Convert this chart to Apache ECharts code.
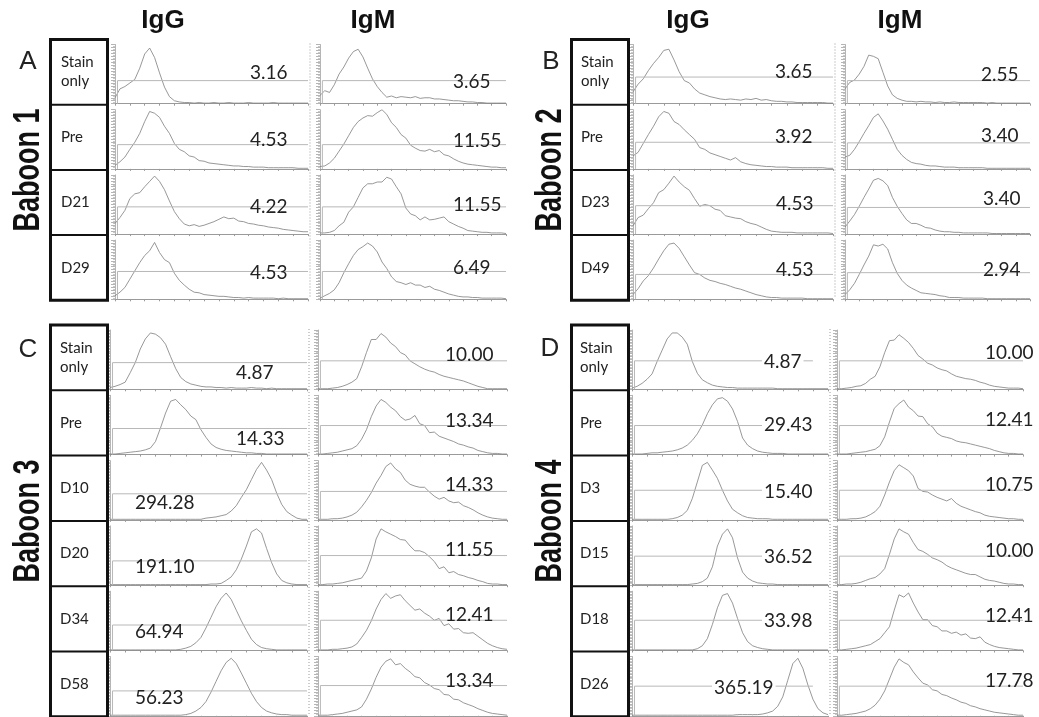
<!DOCTYPE html>
<html>
<head>
<meta charset="utf-8">
<title>Baboon IgG / IgM histograms</title>
<script src="https://cdn.jsdelivr.net/npm/echarts@6/dist/echarts.min.js"></script>
<style>
  html, body { margin: 0; padding: 0; background: #fff; }
  #chart { width: 1039px; height: 717px; }
</style>
</head>
<body>
<div id="chart"></div>
<script>
// row names
const rowsA = ['Stain\nonly', 'Pre', 'D21', 'D29'];
const rowsB = ['Stain\nonly', 'Pre', 'D23', 'D49'];
const rowsC = ['Stain\nonly', 'Pre', 'D10', 'D20', 'D34', 'D58'];
const rowsD = ['Stain\nonly', 'Pre', 'D3', 'D15', 'D18', 'D26'];

// MFI values printed in each histogram
const mfiA_IgG = [3.16, 4.53, 4.22, 4.53];
const mfiA_IgM = [3.65, 11.55, 11.55, 6.49];
const mfiB_IgG = [3.65, 3.92, 4.53, 4.53];
const mfiB_IgM = [2.55, 3.40, 3.40, 2.94];
const mfiC_IgG = [4.87, 14.33, 294.28, 191.10, 64.94, 56.23];
const mfiC_IgM = [10.00, 13.34, 14.33, 11.55, 12.41, 13.34];
const mfiD_IgG = [4.87, 29.43, 15.40, 36.52, 33.98, 365.19];
const mfiD_IgM = [10.00, 12.41, 10.75, 10.00, 12.41, 17.78];

// gate marker height (% of plot height)
const gateA_IgG = [39, 41, 46, 47];
const gateA_IgM = [39, 41, 46, 47];
const gateB_IgG = [45, 45, 48, 42];
const gateB_IgM = [39, 44, 45, 45];
const gateC_IgG = [45, 44, 44, 41, 43, 42];
const gateC_IgM = [48, 49, 48, 50, 51, 51];
const gateD_IgG = [48, 49, 50, 49, 51, 50];
const gateD_IgM = [48, 49, 50, 49, 51, 50];

// histogram counts, 40 channels each, one list per row
const histA_IgG = [
  [10,25,29,35,41,60,84,94,78,52,28,12,5,3,2,2,1,2,1,1,2,1,1,2,1,1,1,2,1,1,1,1,2,1,1,1,1,1,1,1],
  [6,12,20,33,45,60,80,97,94,87,72,60,43,33,29,22,20,14,13,10,9,8,7,6,5,5,4,4,3,3,3,2,2,2,2,2,2,1,1,1],
  [18,28,40,60,68,70,80,89,98,89,75,56,38,26,17,14,16,13,15,18,21,25,29,26,27,22,21,18,17,15,14,12,11,10,8,7,6,5,4,4],
  [6,12,20,34,48,62,74,82,96,79,67,62,44,32,24,17,12,11,8,7,6,5,5,4,3,3,2,3,2,2,2,2,2,1,2,1,1,1,1,1]
];
const histA_IgM = [
  [14,22,19,32,50,62,77,88,92,79,60,42,29,19,11,13,10,12,11,10,12,9,10,10,8,8,7,6,5,5,4,3,3,2,2,1,1,1,1,1],
  [4,5,10,18,30,42,56,70,80,86,90,89,95,100,92,78,70,58,52,40,35,31,30,33,29,31,24,22,17,13,10,8,7,6,5,4,3,3,2,2],
  [2,2,3,6,14,20,37,46,62,78,85,85,88,88,96,93,80,68,44,34,31,24,29,24,25,27,29,21,17,13,10,6,5,4,3,3,2,2,2,1],
  [2,6,10,16,28,45,60,74,84,89,95,90,80,63,52,38,30,28,25,28,24,24,20,22,17,15,12,9,7,5,4,4,3,3,2,2,2,2,2,1]
];
const histB_IgG = [
  [20,33,42,56,68,78,90,92,74,54,39,35,25,18,15,12,10,8,7,8,7,6,8,7,9,6,7,5,4,4,3,3,2,2,2,2,2,2,1,1],
  [22,28,43,58,72,88,97,94,80,75,66,58,50,36,33,27,24,21,18,15,19,12,9,7,6,5,4,4,3,3,3,2,2,2,2,2,2,2,1,1],
  [14,28,32,43,53,70,75,86,98,88,80,74,60,47,50,48,42,40,31,29,27,26,21,18,16,12,8,5,4,3,3,3,2,2,2,2,2,2,2,1],
  [8,18,31,40,53,68,82,93,95,86,72,58,45,42,36,32,30,27,25,22,19,17,14,11,8,6,4,3,3,2,2,2,2,2,1,1,1,1,1,1]
];
const histB_IgM = [
  [25,36,40,50,63,82,80,76,53,30,15,9,6,4,4,3,4,3,3,2,3,2,2,3,2,2,2,2,2,2,1,2,1,1,1,1,1,1,1,1],
  [20,23,33,46,60,73,87,93,81,67,50,33,23,16,11,9,8,6,5,5,4,3,3,3,2,2,2,2,2,2,1,1,1,1,1,1,1,1,1,1],
  [12,22,33,47,62,76,91,94,90,82,62,47,35,24,18,18,15,11,10,7,5,4,4,3,3,2,2,2,2,2,2,1,1,1,1,1,1,1,1,1],
  [8,16,27,42,58,73,92,90,93,85,62,44,32,24,19,15,11,10,9,8,6,5,3,3,3,2,2,2,2,2,1,1,1,1,1,1,1,1,1,1]
];
const histC_IgG = [
  [3,5,8,12,28,45,68,85,95,93,87,76,55,35,20,13,9,7,5,4,4,3,3,2,3,2,2,2,3,2,2,1,2,1,1,1,1,1,1,1],
  [1,1,2,3,4,5,6,8,11,22,45,70,90,93,84,76,65,59,42,29,18,12,9,7,6,5,4,3,3,2,2,1,1,1,1,1,1,1,1,1],
  [1,1,1,1,1,1,1,1,1,1,1,1,1,1,1,1,1,1,1,3,4,5,7,9,15,24,38,51,68,85,97,84,68,45,26,14,8,3,1,1],
  [1,1,1,1,1,1,1,1,1,1,1,1,1,1,1,1,1,1,1,1,2,2,3,8,14,26,44,66,90,95,88,62,38,19,8,4,2,1,1,1],
  [1,1,1,1,1,1,1,1,1,1,1,1,1,1,2,4,7,13,22,38,56,74,88,97,86,68,50,34,19,10,5,3,2,1,1,1,1,1,1,1],
  [1,1,1,1,1,1,1,1,1,1,1,1,1,1,1,2,4,8,14,24,40,58,76,90,97,88,72,55,38,24,14,8,5,3,2,2,1,1,1,1]
];
const histC_IgM = [
  [1,1,1,2,3,5,8,12,18,38,62,84,84,94,88,78,72,62,58,48,43,38,34,31,29,25,22,20,18,16,14,11,8,5,3,1,1,1,1,1],
  [1,1,2,3,4,6,8,10,15,26,42,64,82,93,88,80,74,64,58,60,66,52,49,37,38,31,28,25,22,18,16,13,11,7,5,3,2,2,1,1],
  [1,1,1,2,2,3,5,8,13,22,33,46,62,75,90,96,86,80,67,60,57,55,55,47,40,35,38,32,29,30,24,21,17,12,8,5,3,2,1,1],
  [1,1,2,2,3,4,6,8,10,12,24,46,78,95,90,86,82,77,76,66,58,58,55,48,40,28,31,21,23,18,16,13,11,8,6,3,2,2,1,1],
  [1,1,1,2,2,3,4,6,11,22,34,50,70,86,96,88,92,94,84,76,68,70,63,58,51,54,42,45,36,37,30,29,30,24,18,12,8,5,3,2],
  [1,1,1,2,3,4,6,8,10,15,28,45,65,82,92,96,86,88,80,74,66,64,56,52,46,44,36,35,28,27,22,19,16,12,9,6,4,3,2,1]
];
const histD_IgG = [
  [2,5,10,17,26,47,66,85,95,95,88,76,47,27,16,11,7,5,4,3,3,2,2,2,2,2,2,2,2,1,1,1,1,1,1,1,1,1,1,1],
  [1,1,1,2,3,3,4,5,6,8,11,16,24,35,50,69,84,94,96,90,77,56,28,16,10,6,4,3,2,2,2,1,1,1,1,1,1,1,1,1],
  [1,1,1,1,1,1,1,1,2,4,8,16,36,64,92,97,84,70,50,32,18,12,7,4,3,2,2,2,1,1,1,1,1,1,1,1,1,1,1,1],
  [1,1,1,1,1,1,1,1,1,1,1,1,2,3,6,12,31,66,86,95,80,46,22,12,7,4,3,2,2,1,1,1,1,1,1,1,1,1,1,1],
  [1,1,1,1,1,1,1,1,1,1,1,1,1,3,8,20,44,72,93,96,80,54,30,15,8,5,3,2,1,1,1,1,1,1,1,1,1,1,1,1],
  [1,1,1,1,1,1,1,1,1,1,1,1,1,1,1,1,1,1,1,1,1,2,2,2,2,2,3,5,8,16,32,60,88,97,80,52,28,12,5,2]
];
const histD_IgM = [
  [1,1,2,3,5,6,10,17,22,38,62,82,83,92,86,79,69,57,51,44,41,36,33,31,26,22,20,18,17,15,12,10,7,5,4,3,2,2,2,1],
  [1,1,1,2,3,4,5,7,9,15,30,55,78,86,92,80,74,65,64,52,47,36,31,29,27,23,21,20,18,16,14,12,10,7,5,3,2,2,1,1],
  [1,1,1,2,2,3,5,9,14,23,42,64,83,93,88,83,74,53,48,47,42,38,35,32,36,28,23,20,17,14,12,8,6,5,4,3,2,2,1,1],
  [1,1,2,2,3,5,8,11,13,19,28,52,78,95,90,86,72,60,57,52,46,43,39,33,29,26,23,20,18,18,14,10,8,7,5,3,2,2,1,1],
  [1,1,2,3,4,6,8,10,15,20,30,40,68,94,90,97,80,65,52,52,42,40,33,33,29,31,26,28,21,20,23,14,10,7,5,4,3,2,1,1],
  [1,1,2,3,4,6,8,12,18,28,42,62,82,96,90,86,74,64,55,52,44,42,36,34,30,27,23,21,17,15,12,10,8,6,5,4,3,2,1,1]
];

// page layout of each panel (pixels)
const panels = [
  { letter: 'A', name: 'Baboon 1', rows: rowsA,
    igg: histA_IgG, igm: histA_IgM, mfiG: mfiA_IgG, mfiM: mfiA_IgM, gateG: gateA_IgG, gateM: gateA_IgM,
    box: 50.5, top: 39.5, rowH: 65.2, gx: 115, gw: 193, mx: 320, mw: 186,
    letterPos: [28, 62], namePos: [29, 170], labelX: 61,
    numG: [[250, 73], [250, 140], [250, 207], [250, 273]],
    numM: [[453, 82], [453, 141], [453, 205], [453, 268]],
    titles: [163, 373], gateEndG: 39, maskG: false },
  { letter: 'B', name: 'Baboon 2', rows: rowsB,
    igg: histB_IgG, igm: histB_IgM, mfiG: mfiB_IgG, mfiM: mfiB_IgM, gateG: gateB_IgG, gateM: gateB_IgM,
    box: 571.5, top: 39.5, rowH: 65.2, gx: 633, gw: 200, mx: 845, mw: 185,
    letterPos: [551, 62], namePos: [551, 170], labelX: 581,
    numG: [[775, 72], [775, 137], [776, 204], [776, 270]],
    numM: [[981, 75], [981, 136], [983, 199], [983, 270]],
    titles: [688, 900], gateEndG: 39, maskG: false },
  { letter: 'C', name: 'Baboon 3', rows: rowsC,
    igg: histC_IgG, igm: histC_IgM, mfiG: mfiC_IgG, mfiM: mfiC_IgM, gateG: gateC_IgG, gateM: gateC_IgM,
    box: 50.5, top: 325, rowH: 65.3, gx: 110, gw: 197, mx: 318, mw: 189,
    letterPos: [28, 350], namePos: [29, 521], labelX: 60,
    numG: [[236, 373], [236, 439], [135, 503], [135, 567], [135, 632], [135, 698]],
    numM: [[445, 355], [445, 421], [445, 485], [445, 550], [445, 615], [445, 681]],
    titles: null, gateEndG: 39, maskG: false },
  { letter: 'D', name: 'Baboon 4', rows: rowsD,
    igg: histD_IgG, igm: histD_IgM, mfiG: mfiD_IgG, mfiM: mfiD_IgM, gateG: gateD_IgG, gateM: gateD_IgM,
    box: 571.5, top: 325, rowH: 65.3, gx: 632, gw: 196, mx: 837, mw: 186,
    letterPos: [550, 349], namePos: [551, 521], labelX: 580,
    numG: [[762, 362], [762, 425], [762, 492], [762, 557], [762, 621], [712, 688]],
    numM: [[985, 353], [985, 420], [985, 485], [985, 551], [985, 616], [985, 681]],
    titles: null, gateEndG: 36, maskG: true }
];

const grids = [], xAxes = [], yAxes = [], series = [], graphic = [];
let k = 0;

function addCell(left, width, rowTop, rowH, hist, gate, gateEnd) {
  grids.push({ left: left, top: rowTop + 5, width: width, height: rowH - 6 });
  xAxes.push({
    gridIndex: k, type: 'value', min: 0, max: 39, interval: 3,
    axisLine: { show: true, lineStyle: { color: '#9a9a9a', width: 1 } },
    axisTick: { show: true, length: 2, lineStyle: { color: '#9a9a9a' } },
    axisLabel: { show: false }, splitLine: { show: false }
  });
  yAxes.push({
    gridIndex: k, type: 'value', min: 0, max: 100, interval: 5,
    axisLine: { show: true, lineStyle: { color: '#b5b5b5', width: 1 } },
    axisTick: { show: true, length: 4, lineStyle: { color: '#b5b5b5' } },
    minorTick: { show: true, splitNumber: 2, length: 2, lineStyle: { color: '#c8c8c8' } },
    axisLabel: { show: false }, splitLine: { show: false }
  });
  series.push({
    type: 'line', xAxisIndex: k, yAxisIndex: k, silent: true,
    symbol: 'none', smooth: false,
    lineStyle: { color: '#7d7d7d', width: 0.8 },
    data: hist.map((v, i) => [i, v])
  });
  // M1 gate marker
  series.push({
    type: 'line', xAxisIndex: k, yAxisIndex: k, silent: true,
    symbol: 'none',
    lineStyle: { color: '#b8b8b8', width: 1 },
    data: [[0.5, 0], [0.5, gate], [gateEnd, gate]]
  });
  k++;
}

function numText(pos, v, mask) {
  const el = {
    type: 'text', x: pos[0], y: pos[1], z: 20,
    style: { text: v.toFixed(2), font: '19px Lato', fill: '#222', align: 'left', verticalAlign: 'middle' }
  };
  if (mask) { el.style.backgroundColor = '#fff'; el.style.padding = [0, 2]; }
  graphic.push(el);
}

panels.forEach(p => {
  const n = p.rows.length;
  const h = n * p.rowH;
  p.rows.forEach((row, r) => {
    const rowTop = p.top + r * p.rowH;
    addCell(p.gx, p.gw, rowTop, p.rowH, p.igg[r], p.gateG[r], p.gateEndG);
    addCell(p.mx, p.mw, rowTop, p.rowH, p.igm[r], p.gateM[r], 39);
    graphic.push({
      type: 'text', x: p.labelX, y: rowTop + p.rowH / 2, z: 20,
      style: { text: row, font: '15px Lato', fill: '#222', align: 'left', verticalAlign: 'middle', lineHeight: 19 }
    });
    if (r > 0) {
      graphic.push({
        type: 'line', z: 20,
        shape: { x1: p.box, y1: rowTop, x2: p.box + 57, y2: rowTop },
        style: { stroke: '#111', lineWidth: 2 }
      });
    }
    numText(p.numG[r], p.mfiG[r], p.maskG);
    numText(p.numM[r], p.mfiM[r], false);
  });

  // label column frame
  graphic.push({
    type: 'rect', z: 21,
    shape: { x: p.box, y: p.top, width: 57, height: h },
    style: { fill: 'none', stroke: '#111', lineWidth: 3 }
  });
  // dotted divider between IgG and IgM plots
  graphic.push({
    type: 'line', z: 20,
    shape: { x1: p.gx + p.gw + 2, y1: p.top + 4, x2: p.gx + p.gw + 2, y2: p.top + h - 2 },
    style: { stroke: '#9a9a9a', lineWidth: 1, lineDash: [1, 2] }
  });
  graphic.push({
    type: 'text', x: p.letterPos[0], y: p.letterPos[1], z: 20,
    style: { text: p.letter, font: '26px "Liberation Sans"', fill: '#222', align: 'center', verticalAlign: 'middle' }
  });
  graphic.push({
    type: 'text', x: p.namePos[0], y: p.namePos[1], z: 20, rotation: Math.PI / 2, scaleX: 0.75,
    style: { text: p.name, font: 'bold 36px "Liberation Sans"', fill: '#111', align: 'center', verticalAlign: 'middle' }
  });
  if (p.titles) {
    ['IgG', 'IgM'].forEach((t, i) => {
      graphic.push({
        type: 'text', x: p.titles[i], y: 21, z: 20,
        style: { text: t, font: 'bold 26px "Liberation Sans"', fill: '#111', align: 'center', verticalAlign: 'middle' }
      });
    });
  }
});

const chart = echarts.init(document.getElementById('chart'), null, { renderer: 'canvas' });
chart.setOption({
  backgroundColor: '#fff',
  animation: false,
  grid: grids,
  xAxis: xAxes,
  yAxis: yAxes,
  series: series,
  graphic: graphic
});
</script>
</body>
</html>
